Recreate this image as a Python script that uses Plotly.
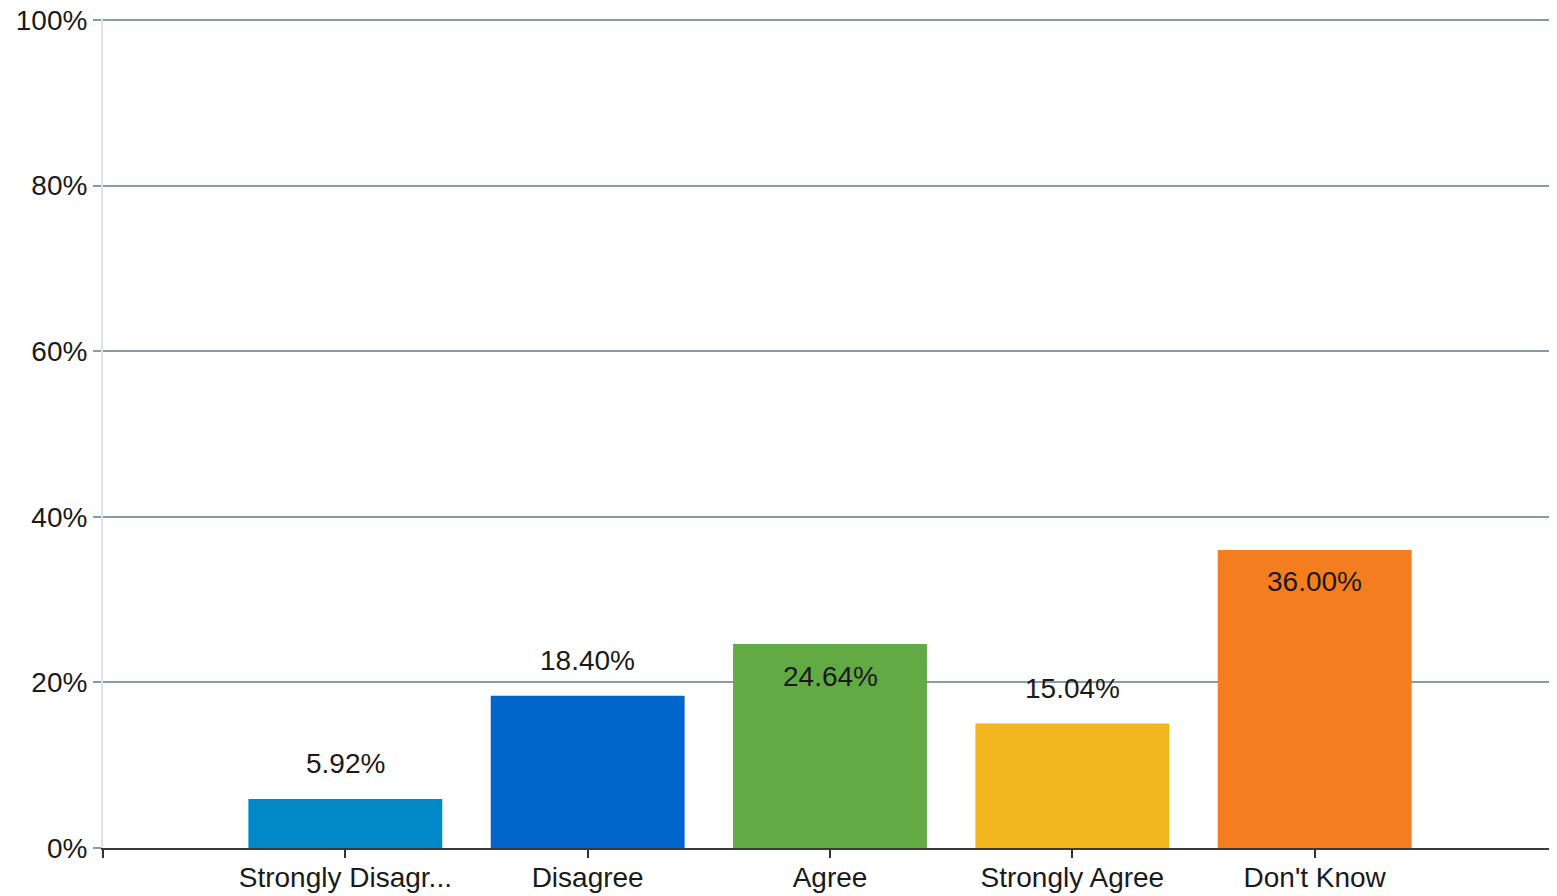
import plotly.graph_objects as go

categories = ["Strongly Disagr...", "Disagree", "Agree", "Strongly Agree", "Don't Know"]
values = [5.92, 18.40, 24.64, 15.04, 36.00]
label_inside = [False, False, True, False, True]
colors = ["#0088C8", "#0066CC", "#62AB44", "#F2B71E", "#F47D20"]
y_ticks = [0, 20, 40, 60, 80, 100]

FONT = "Liberation Sans, Arial, sans-serif"
FS = 28
xpos = list(range(len(categories)))

fig = go.Figure()
fig.add_trace(go.Bar(
    x=xpos, y=values, width=0.8,
    marker=dict(color=colors, line=dict(width=0)),
    hoverinfo="skip",
))

for xi, v, inside in zip(xpos, values, label_inside):
    fig.add_annotation(
        x=xi, y=v, xref="x", yref="y",
        text=f"{v:.2f}%", showarrow=False,
        yshift=-32 if inside else 35,
        font=dict(family=FONT, size=FS, color="#1a1a1a"),
    )

# page body has an 8px default margin, so the figure is sized/offset to compensate
fig.update_layout(
    width=1549, height=888,
    margin=dict(l=95, r=0, t=10, b=48, pad=0),
    paper_bgcolor="white", plot_bgcolor="white",
    showlegend=False,
    font=dict(family=FONT, size=FS, color="#1a1a1a"),
    xaxis=dict(
        range=[-1, 5],
        automargin=False,
        tickmode="array",
        tickvals=[-1] + xpos,
        ticktext=[""] + categories,
        ticks="outside", ticklen=8, tickwidth=2, tickcolor="#333333",
        showgrid=False, zeroline=False,
        showline=True, linecolor="#3a3a3a", linewidth=2,
        tickfont=dict(family=FONT, size=FS, color="#1a1a1a"),
        ticklabelstandoff=-5,
        ticklabeloverflow="allow",
    ),
    yaxis=dict(
        range=[0, 100.25],
        automargin=False,
        tickmode="array",
        tickvals=y_ticks,
        ticktext=[f"{t}%" for t in y_ticks],
        ticks="outside", ticklen=8, tickwidth=2, tickcolor="#8a9aa4",
        showgrid=True, gridcolor="#8a9aa4", gridwidth=2,
        zeroline=False,
        showline=True, linecolor="#dde3ee", linewidth=2,
        tickfont=dict(family=FONT, size=FS, color="#1a1a1a"),
        ticklabelstandoff=0,
        ticklabeloverflow="allow",
    ),
)

fig.write_html("out.html")
